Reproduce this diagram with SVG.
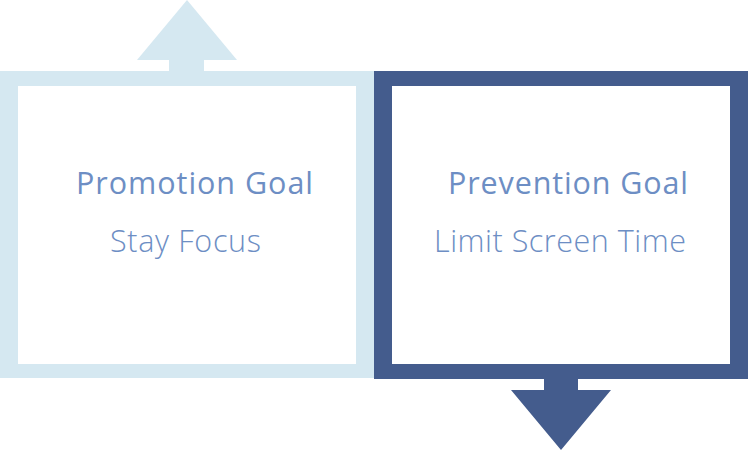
<svg xmlns="http://www.w3.org/2000/svg" width="748" height="450" viewBox="0 0 748 450">
<style>
.light{fill:#D5E8F1}
.dark{fill:#445C8D}
.title{font-family:"Open Sans","Liberation Sans",sans-serif;font-weight:500;font-size:30.5px;fill:#6D8EC4}
.sub{font-family:"Open Sans","Liberation Sans",sans-serif;font-weight:300;font-size:30.5px;fill:#6D8EC4}
</style>
<rect width="748" height="450" fill="#FFFFFF"/>
<g id="connectors">
<path id="arrow-up" class="light" d="M187 0 L237 60 H204 V71 H169 V60 H137 Z"/>
<path id="arrow-down" class="dark" d="M544 379 H578 V390 H611 L561 450 L511 390 H544 Z"/>
</g>
<g id="promotion">
<path class="light" fill-rule="evenodd" d="M0 71 H374 V378 H0 Z M18 86 V364 H356 V86 Z"/>
<text class="title" x="76" y="194" textLength="237" lengthAdjust="spacing">Promotion Goal</text>
<text class="sub" x="110" y="252" textLength="151" lengthAdjust="spacing">Stay Focus</text>
</g>
<g id="prevention">
<path class="dark" fill-rule="evenodd" d="M374 71 H748 V379 H374 Z M392 86 V364 H730 V86 Z"/>
<text class="title" x="448" y="194" textLength="240" lengthAdjust="spacing">Prevention Goal</text>
<text class="sub" x="434" y="252" textLength="252" lengthAdjust="spacing">Limit Screen Time</text>
</g>
</svg>
